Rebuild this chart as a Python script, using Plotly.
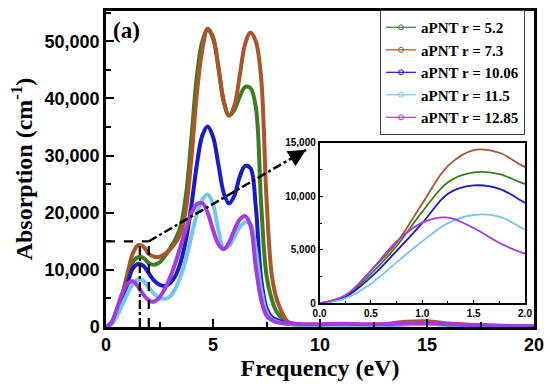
import plotly.graph_objects as go

# ---- data ----
energy = [0, 0.25, 0.5, 0.75, 1.0, 1.25, 1.5, 1.75, 2.0, 2.25, 2.5, 2.75, 3.0, 3.25, 3.5, 3.75,
          4.0, 4.25, 4.5, 4.75, 5.0, 5.25, 5.5, 5.75, 6.0, 6.25, 6.5, 6.75, 7.0, 7.25, 7.5, 7.75,
          8.0, 8.5, 9.0, 9.5, 10, 11, 12, 13, 14, 15, 16, 17, 18, 19, 20]

abs_r5_2 = [0, 650, 2750, 5360, 8570, 11330, 12240, 12090, 11170, 10900, 11300, 12400, 13800, 15400,
            17800, 23500, 33500, 44000, 50000, 52000, 50500, 45500, 39500, 37000, 38000, 40300, 42000,
            41800, 38500, 21500, 9000, 4800, 2500, 800, 450, 350, 300, 250, 300, 400, 700, 800, 500,
            350, 200, 120, 80]
abs_r7_3 = [0, 700, 3060, 5660, 9340, 12850, 14330, 14080, 12760, 12300, 12300, 12800, 13600, 14800,
            16500, 21000, 30000, 41000, 48500, 52200, 50800, 45500, 39500, 37000, 38800, 44000, 49500,
            51500, 50000, 43500, 22500, 9000, 4600, 900, 500, 400, 350, 300, 350, 500, 900, 1000, 600,
            400, 250, 150, 100]
abs_r10_06 = [0, 600, 2450, 4900, 7500, 10250, 11020, 10710, 9400, 8100, 7400, 7200, 7700, 9000,
              11500, 15500, 21500, 28500, 33500, 35100, 33300, 28500, 23500, 21600, 23000, 26300, 28200,
              27800, 21000, 8400, 3300, 1700, 1200, 600, 400, 300, 250, 250, 250, 350, 500, 600, 400,
              250, 150, 100, 60]
abs_r11_5 = [0, 460, 1840, 3830, 5800, 7500, 8260, 8110, 6890, 5800, 5100, 4950, 5400, 6800,
             9000, 12100, 16000, 19800, 22300, 23200, 21500, 17000, 13800, 14200, 15800, 17500, 18300,
             18000, 13500, 6500, 2600, 1300, 900, 500, 350, 300, 250, 250, 300, 350, 500, 550, 400,
             250, 150, 100, 60]
abs_r12_85 = [0, 750, 3060, 5800, 7550, 8020, 7040, 5660, 4650, 4450, 5200, 6700, 8700, 11300,
              14300, 17300, 20000, 21500, 21700, 20000, 17000, 14500, 13600, 14800, 17000, 18800, 19400,
              17800, 10500, 4800, 2000, 1200, 800, 600, 500, 500, 500, 550, 500, 500, 650, 700, 500,
              300, 200, 120, 80]

series_names = ["aPNT r = 5.2", "aPNT r = 7.3", "aPNT r = 10.06", "aPNT r = 11.5", "aPNT r = 12.85"]
series_values = [abs_r5_2, abs_r7_3, abs_r10_06, abs_r11_5, abs_r12_85]
series_colors = ["#3d7d22", "#a9562a", "#1a1acc", "#74c6ee", "#a23be0"]

main_xticks = [0, 5, 10, 15, 20]
main_yticks = [0, 10000, 20000, 30000, 40000, 50000]
inset_xticks = [0.0, 0.5, 1.0, 1.5, 2.0]
inset_yticks = [0, 5000, 10000, 15000]

# guide lines / arrow (data coordinates)
zoom_box_x = 2.0
zoom_box_y = 15000
peak_line_x = 1.58
peak_line_y = 14300
arrow_head = (9.35, 31000)

fig = go.Figure()

# main curves
for name, vals, col in zip(series_names, series_values, series_colors):
    fig.add_trace(go.Scatter(x=energy, y=vals, mode="lines", line=dict(color=col, width=4, shape="spline"),
                             showlegend=False, xaxis="x", yaxis="y"))
# inset curves
for name, vals, col in zip(series_names, series_values, series_colors):
    fig.add_trace(go.Scatter(x=energy, y=vals, mode="lines", line=dict(color=col, width=1.8, shape="spline"),
                             showlegend=False, xaxis="x2", yaxis="y2"))
# legend entries
for name, vals, col in zip(series_names, series_values, series_colors):
    fig.add_trace(go.Scatter(x=[None], y=[None], mode="lines+markers", name="<b>" + name + "</b>",
                             line=dict(color=col, width=1.2),
                             marker=dict(symbol="circle-open", size=5, color=col, line=dict(width=1)),
                             xaxis="x", yaxis="y"))

SANS = "Liberation Sans"
SERIF = "Liberation Serif"
tick_font = dict(family=SANS, size=18, color="black")
inset_font = dict(family=SANS, size=10, color="black")
title_font = dict(family=SERIF, size=24, color="black")


def bold(vals, fmt):
    return ["<b>" + format(v, fmt) + "</b>" for v in vals]


fig.update_layout(
    width=550, height=388,
    margin=dict(l=106, r=14, t=6, b=61),
    paper_bgcolor="white", plot_bgcolor="white",
    xaxis=dict(range=[0, 20], tickvals=main_xticks, ticktext=bold(main_xticks, "d"),
               ticks="inside", ticklen=8, tickwidth=2, tickcolor="black",
               minor=dict(ticks="inside", ticklen=5, tickwidth=2, dtick=2.5, tickcolor="black"),
               showline=True, linewidth=2.5, linecolor="black", mirror=True, showgrid=False, zeroline=False,
               tickfont=tick_font,
               title=dict(text="<b>Frequency (eV)</b>", font=title_font, standoff=2)),
    yaxis=dict(range=[0, 55300], tickvals=main_yticks, ticktext=bold(main_yticks, ","),
               ticks="inside", ticklen=8, tickwidth=2, tickcolor="black",
               minor=dict(ticks="inside", ticklen=5, tickwidth=2, dtick=5000, tickcolor="black"),
               showline=True, linewidth=2.5, linecolor="black", mirror=True, showgrid=False, zeroline=False,
               tickfont=tick_font,
               title=dict(text="<b>Absorption (cm<sup>-1</sup>)</b>", font=title_font, standoff=6)),
    xaxis2=dict(domain=[0.499, 0.979], anchor="y2", range=[0, 2], tickvals=inset_xticks,
                ticktext=bold(inset_xticks, ".1f"),
                ticks="inside", ticklen=4, tickwidth=1, tickcolor="black",
                minor=dict(ticks="inside", ticklen=2.5, tickwidth=1, dtick=0.25, tickcolor="black"),
                showline=True, linewidth=1.5, linecolor="black", mirror=True, showgrid=False, zeroline=False,
                tickfont=inset_font),
    yaxis2=dict(domain=[0.0748, 0.5826], anchor="x2", range=[0, 15000], tickvals=inset_yticks,
                ticktext=bold(inset_yticks, ","),
                ticks="inside", ticklen=4, tickwidth=1, tickcolor="black",
                minor=dict(ticks="inside", ticklen=2.5, tickwidth=1, dtick=2500, tickcolor="black"),
                showline=True, linewidth=1.5, linecolor="black", mirror=True, showgrid=False, zeroline=False,
                tickfont=inset_font),
    legend=dict(x=0.979, xanchor="right", y=1.003, yanchor="top", bgcolor="white",
                bordercolor="#444", borderwidth=1,
                font=dict(family=SERIF, size=15, color="black"),
                tracegroupgap=0, itemwidth=30),
)

# guide lines
fig.add_shape(type="line", xref="x", yref="y", x0=0, y0=zoom_box_y, x1=zoom_box_x, y1=zoom_box_y,
              line=dict(color="black", width=2.2, dash="dash"))
fig.add_shape(type="line", xref="x", yref="y", x0=zoom_box_x, y0=0, x1=zoom_box_x, y1=zoom_box_y,
              line=dict(color="black", width=2.2, dash="dash"))
fig.add_shape(type="line", xref="x", yref="y", x0=peak_line_x, y0=0, x1=peak_line_x, y1=peak_line_y,
              line=dict(color="black", width=2.2, dash="dashdot"))
fig.add_shape(type="line", xref="x", yref="y", x0=zoom_box_x, y0=zoom_box_y, x1=arrow_head[0], y1=arrow_head[1],
              line=dict(color="black", width=2.5, dash="dashdot"))
fig.add_annotation(x=arrow_head[0], y=arrow_head[1], xref="x", yref="y", ax=-11, ay=6.5, text="",
                   showarrow=True, arrowhead=2, arrowsize=1.4, arrowwidth=2.5, arrowcolor="black", standoff=0)

fig.add_annotation(x=0.012, y=0.985, xref="paper", yref="paper", xanchor="left", yanchor="top",
                   text="<b>(a)</b>", showarrow=False,
                   font=dict(family=SERIF, size=23, color="black"))

fig.write_html("out.html", config={"displayModeBar": False},
               post_script="document.body.style.margin='0';")
